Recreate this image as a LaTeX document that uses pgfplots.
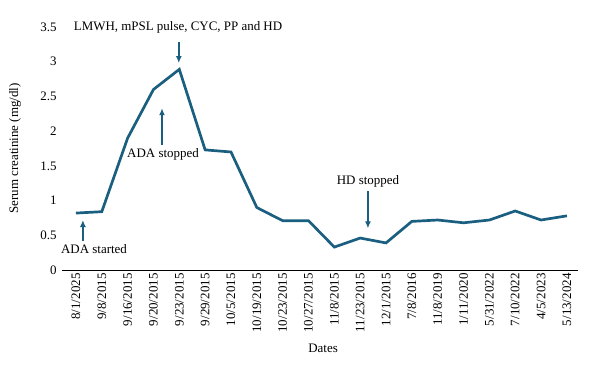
\documentclass[border=0pt]{standalone}
\usepackage{pgfplots}
\pgfplotsset{compat=1.18}
\usetikzlibrary{arrows.meta}
\usepackage{fontspec}
\setmainfont{Liberation Serif}
\definecolor{teal1}{RGB}{26,94,128}
\begin{document}
\begin{tikzpicture}
\begin{axis}[
  scale only axis,
  width=516bp, height=243bp,
  xmin=-0.54, xmax=19.43,
  ymin=0, ymax=3.5,
  axis x line*=bottom, axis y line*=left,
  y axis line style={draw=none},
  x axis line style={line width=0.8pt},
  major tick length=0pt,
  ytick={0,0.5,...,3.5},
  yticklabels={0,0.5,1,1.5,2,2.5,3,3.5},
  xtick={0,...,19},
  xticklabels={8/1/2025,9/8/2015,9/16/2015,9/20/2015,9/23/2015,9/29/2015,10/5/2015,10/19/2015,10/23/2015,10/27/2015,11/8/2015,11/23/2015,12/1/2015,7/8/2016,11/8/2019,1/11/2020,5/31/2022,7/10/2022,4/5/2023,5/13/2024},
  x tick label style={rotate=90, anchor=east, font=\fontsize{13}{14}\selectfont, yshift=0bp},
  y tick label style={font=\fontsize{13}{14}\selectfont, xshift=-2bp},
  /pgf/number format/assume math mode=true,
  xlabel={Dates}, ylabel={Serum creatinine (mg/dl)},
  every axis y label/.style={at={(axis description cs:-0.091,0.5)}, rotate=90, anchor=center},
  every axis x label/.style={at={(axis description cs:0.506,-0.321)}, anchor=center},
  label style={font=\fontsize{13}{14}\selectfont},
  clip=false,
]
\addplot[teal1, line width=2.7pt, line join=miter] coordinates {
(0,0.82)(1,0.84)(2,1.90)(3,2.60)(4,2.89)(5,1.73)(6,1.70)(7,0.90)(8,0.71)(9,0.71)
(10,0.33)(11,0.46)(12,0.39)(13,0.70)(14,0.72)(15,0.68)(16,0.72)(17,0.85)(18,0.72)(19,0.78)};
\begin{scope}[every node/.style={font=\fontsize{13}{14}\selectfont}]
\node at (axis cs:3.95,3.5) {LMWH, mPSL pulse, CYC, PP and HD};
\node at (axis cs:3.37,1.66) {ADA stopped};
\node at (axis cs:0.70,0.30) {ADA started};
\node at (axis cs:11.3,1.27) {HD stopped};
\end{scope}
\tikzset{annarrow/.style={teal1, line width=1.6pt, -{Latex[length=7bp,width=6bp]}}}
\draw[annarrow] (axis cs:3.98,3.28) -- (axis cs:3.98,2.98);
\draw[annarrow] (axis cs:3.33,1.80) -- (axis cs:3.33,2.33);
\draw[annarrow] (axis cs:0.27,0.42) -- (axis cs:0.27,0.72);
\draw[annarrow] (axis cs:11.3,1.14) -- (axis cs:11.3,0.60);
\end{axis}
\pgfresetboundingbox
\path (current axis.south west) ++(-62bp,-103bp) rectangle ++(600bp,373bp);
\end{tikzpicture}
\end{document}
